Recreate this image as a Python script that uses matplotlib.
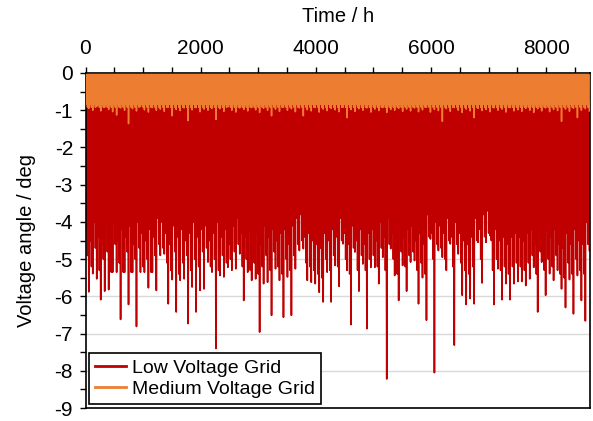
import numpy as np
import matplotlib
matplotlib.use('Agg')
import matplotlib.pyplot as plt
from matplotlib.ticker import MultipleLocator

plt.rcParams['font.family'] = ['Liberation Sans', 'DejaVu Sans']
plt.rcParams['axes.unicode_minus'] = False

# Envolvente de la serie horaria (lectura aproximada del grafico, ~69 h por tramo)
# valor mas profundo de cada tramo
low_min = [
    -5.88, -5.39, -5.53, -6.09, -5.86, -5.82, -5.35, -5.35, -6.62, -5.35,
    -6.22, -5.35, -6.81, -5.35, -5.35, -5.77, -5.35, -5.84, -4.90, -4.86,
    -6.20, -5.55, -6.42, -5.57, -5.53, -6.73, -5.75, -6.42, -5.84, -5.80,
    -5.08, -5.35, -7.40, -5.44, -5.48, -5.22, -5.30, -5.26, -4.86, -6.11,
    -5.35, -5.57, -5.53, -6.96, -5.66, -5.62, -6.51, -5.26, -5.57, -6.56,
    -5.48, -6.51, -5.26, -4.77, -4.72, -5.57, -5.62, -5.66, -5.89, -6.15,
    -5.35, -6.15, -5.17, -5.73, -4.59, -5.30, -6.76, -4.81, -5.86, -5.13,
    -6.87, -5.22, -5.22, -5.66, -4.95, -8.22, -4.72, -5.44, -6.11, -5.17,
    -5.86, -5.08, -5.04, -6.20, -5.50, -6.64, -4.46, -8.05, -4.77, -4.95,
    -5.30, -4.59, -7.31, -4.86, -5.97, -6.22, -6.06, -6.20, -4.55, -5.64,
    -4.55, -4.37, -6.22, -5.26, -6.09, -5.66, -6.09, -5.66, -5.60, -5.60,
    -5.71, -5.53, -5.22, -6.42, -5.08, -5.97, -5.39, -5.57, -5.30, -5.80,
    -6.30, -5.55, -6.47, -5.44, -6.11, -6.66, -4.77,
]
# segundo valor bajo de cada tramo
low_mid = [
    -4.9, -5.2, -4.7, -5.3, -5.0, -4.8, -5.35, -4.6, -5.1, -5.35,
    -4.8, -5.35, -5.0, -4.7, -5.2, -5.0, -5.35, -4.9, -4.6, -4.7,
    -5.1, -5.3, -4.8, -5.4, -5.1, -4.9, -5.3, -5.0, -5.2, -4.8,
    -4.7, -5.2, -5.0, -5.3, -4.9, -5.1, -5.0, -4.8, -4.6, -5.2,
    -5.0, -5.3, -5.1, -5.4, -5.2, -4.9, -5.3, -4.8, -5.2, -5.4,
    -5.0, -5.3, -4.9, -4.6, -4.5, -5.1, -5.2, -5.3, -5.4, -5.5,
    -5.0, -5.3, -4.9, -5.2, -4.5, -5.0, -5.4, -4.7, -5.3, -4.9,
    -5.3, -5.0, -4.9, -5.2, -4.7, -5.3, -4.6, -5.0, -5.4, -4.8,
    -5.2, -4.9, -4.8, -5.3, -5.1, -5.4, -4.4, -5.0, -4.6, -4.7,
    -5.0, -4.5, -5.2, -4.6, -5.1, -5.3, -5.4, -5.2, -4.5, -5.0,
    -4.4, -4.3, -5.3, -5.0, -5.3, -5.2, -5.4, -5.2, -5.1, -5.2,
    -5.3, -5.1, -4.9, -5.4, -4.8, -5.3, -5.0, -5.2, -4.9, -5.4,
    -5.5, -5.1, -5.4, -5.0, -5.3, -5.4, -4.6,
]
# borde inferior de la zona maciza
low_body = [
    -4.2, -4.5, -4.0, -4.4, -4.6, -4.1, -4.3, -4.0, -4.5, -4.2,
    -4.4, -4.1, -4.6, -4.0, -4.3, -4.5, -4.2, -4.4, -3.9, -4.0,
    -4.3, -4.6, -4.1, -4.4, -4.2, -4.5, -4.3, -4.0, -4.4, -4.2,
    -4.1, -4.5, -4.3, -4.0, -4.4, -4.2, -4.6, -4.1, -3.9, -4.3,
    -4.4, -4.2, -4.5, -4.3, -4.6, -4.1, -4.4, -4.2, -4.5, -4.3,
    -4.2, -4.6, -4.1, -3.9, -3.8, -4.4, -4.3, -4.5, -4.6, -4.7,
    -4.3, -4.5, -4.2, -4.4, -3.9, -4.3, -4.6, -4.1, -4.5, -4.2,
    -4.6, -4.3, -4.2, -4.5, -4.0, -4.4, -3.9, -4.3, -4.6, -4.1,
    -4.4, -4.2, -4.1, -4.5, -4.3, -4.6, -3.8, -4.3, -4.0, -4.1,
    -4.3, -3.9, -4.4, -4.0, -4.3, -4.5, -4.6, -4.4, -3.9, -4.2,
    -3.8, -3.7, -4.5, -4.2, -4.5, -4.4, -4.6, -4.4, -4.3, -4.4,
    -4.5, -4.3, -4.2, -4.6, -4.1, -4.5, -4.2, -4.4, -4.2, -4.6,
    -4.7, -4.3, -4.6, -4.2, -4.5, -4.6, -4.0,
]
low_top = -0.6

med_min = [
    -0.95, -1.00, -0.90, -1.02, -0.92, -0.98, -1.04, -1.13, -0.94, -1.00,
    -1.36, -0.96, -1.02, -0.90, -0.99, -1.05, -0.93, -1.00, -0.97, -1.03,
    -0.92, -1.15, -0.98, -1.01, -0.94, -1.28, -0.99, -0.93, -1.04, -0.97,
    -1.00, -0.95, -1.25, -0.96, -1.03, -0.91, -1.00, -1.05, -0.94, -0.98,
    -1.02, -0.93, -0.99, -1.06, -0.95, -1.00, -1.15, -0.97, -1.03, -0.92,
    -1.00, -0.96, -1.04, -0.94, -1.15, -0.99, -1.02, -0.93, -1.05, -0.97,
    -1.01, -0.95, -0.99, -1.04, -0.92, -1.20, -0.98, -1.03, -0.96, -1.00,
    -0.94, -1.05, -0.97, -1.01, -0.93, -1.06, -0.98, -1.00, -0.95, -1.03,
    -0.97, -1.02, -0.94, -1.04, -0.99, -0.92, -1.05, -0.98, -1.01, -1.30,
    -0.96, -1.03, -0.93, -1.00, -1.06, -0.97, -1.02, -1.20, -0.95, -1.01,
    -0.98, -1.04, -0.94, -1.00, -0.97, -1.05, -0.93, -1.02, -0.99, -1.03,
    -0.95, -1.00, -1.06, -0.96, -1.02, -0.94, -1.04, -0.98, -1.01, -1.30,
    -0.97, -1.03, -0.95, -1.20, -1.00, -0.96, -1.02,
]
med_mid = -0.92
med_body = -0.84
med_top = -0.04

n_hours = 8760


def dense_trace(top, body, mid, low):
    # tres "dientes" por tramo para imitar la serie horaria densa
    edges = np.linspace(0, n_hours, len(low) + 1)
    xs, ys = [], []
    for i in range(len(low)):
        b = body[i] if np.ndim(body) else body
        m = mid[i] if np.ndim(mid) else mid
        w = edges[i + 1] - edges[i]
        seq = [top, b, top, m, top, low[i]]
        for k, y in enumerate(seq):
            xs.append(edges[i] + k * w / len(seq))
            ys.append(y)
    return np.array(xs), np.array(ys)


x_low, y_low = dense_trace(low_top, low_body, low_mid, low_min)
x_med, y_med = dense_trace(med_top, med_body, med_mid, med_min)

fig = plt.figure(figsize=(5.93, 4.21), dpi=100)
ax = fig.add_axes([85.5 / 593, 1 - 408 / 421, (590 - 85.5) / 593, (408 - 73) / 421])

ax.plot(x_low, y_low, color='#C00000', lw=1.2, label='Low Voltage Grid', zorder=2)
ax.plot(x_med, y_med, color='#ED7D31', lw=1.1, label='Medium Voltage Grid', zorder=3)

ax.set_xlim(0, n_hours)
ax.set_ylim(-9, 0)
ax.yaxis.set_major_locator(MultipleLocator(1))
ax.yaxis.set_minor_locator(MultipleLocator(0.5))
ax.xaxis.set_major_locator(MultipleLocator(2000))
ax.xaxis.set_minor_locator(MultipleLocator(500))
ax.xaxis.tick_top()
ax.xaxis.set_label_position('top')
ax.tick_params(axis='both', which='both', direction='out', length=4, width=1, labelsize=15)
ax.tick_params(axis='x', pad=7)
ax.tick_params(axis='y', pad=5)
ax.grid(axis='y', which='major', color='#d9d9d9', lw=1, zorder=0)
ax.set_axisbelow(True)
for s in ax.spines.values():
    s.set_linewidth(1.2)

ax.set_xlabel('Time / h', fontsize=14.5, labelpad=12)
ax.set_ylabel('Voltage angle / deg', fontsize=14.5, labelpad=13)

leg = ax.legend(loc='lower left', fontsize=14, frameon=True, fancybox=False,
                edgecolor='black', framealpha=1, borderpad=0.3, labelspacing=0.2,
                handlelength=1.6, handletextpad=0.3, borderaxespad=0.2)
leg.get_frame().set_linewidth(1.2)
for line in leg.get_lines():
    line.set_linewidth(2)

fig.savefig('out.png', dpi=100)
